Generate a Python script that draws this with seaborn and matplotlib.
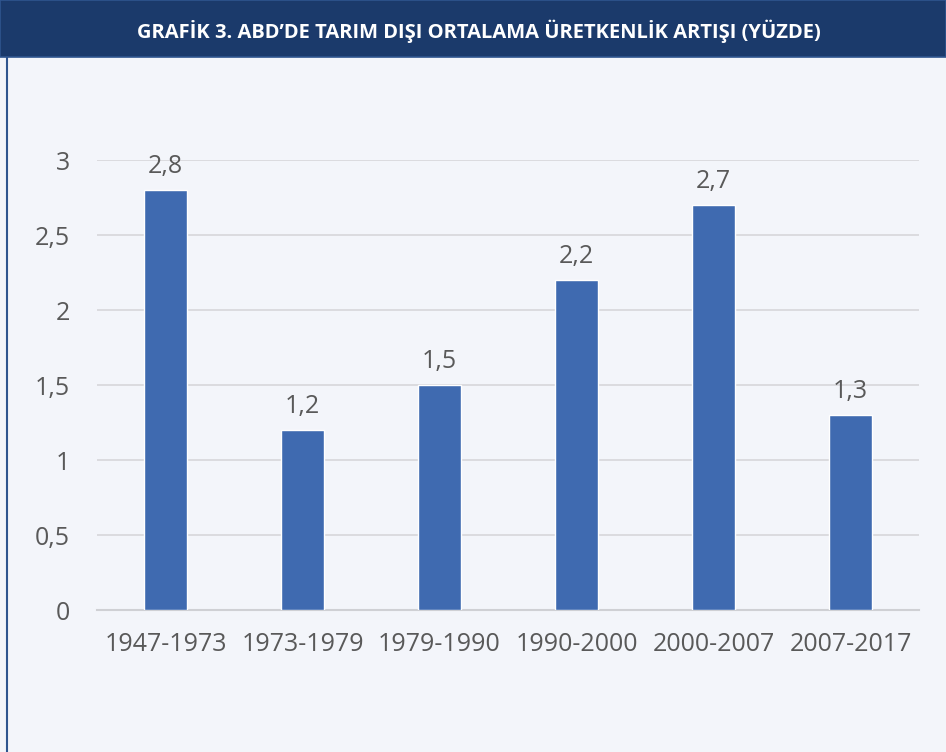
import matplotlib
matplotlib.use('Agg')
import matplotlib.pyplot as plt
import seaborn as sns
import pandas as pd
from matplotlib.patches import Rectangle
from matplotlib.lines import Line2D
from matplotlib.ticker import FuncFormatter

# --- chart data --- #
periods = ['1947-1973', '1973-1979', '1979-1990', '1990-2000', '2000-2007', '2007-2017']
growth = [2.8, 1.2, 1.5, 2.2, 2.7, 1.3]
y_ticks = [0, 0.5, 1, 1.5, 2, 2.5, 3]
title = 'GRAFİK 3. ABD’DE TARIM DIŞI ORTALAMA ÜRETKENLİK ARTIŞI (YÜZDE)'

df = pd.DataFrame({'period': periods, 'growth': growth})

sns.set_theme(style='white')
plt.rcParams['font.family'] = ['Open Sans', 'DejaVu Sans']

bg = '#f3f5fa'
navy = '#1b3a6b'
text_gray = '#595959'

fig = plt.figure(figsize=(9.46, 7.52), dpi=100, facecolor=bg)

# header band and panel border
fig.patches.append(Rectangle((0, 1 - 57 / 752), 1, 57 / 752, transform=fig.transFigure,
                             facecolor=navy, edgecolor='#2f558f', linewidth=1.2, zorder=0))
fig.lines.append(Line2D([6.5 / 946, 6.5 / 946], [0, 1 - 57 / 752], transform=fig.transFigure,
                        color='#2f558f', linewidth=1.5))
fig.text(479 / 946, 1 - 31 / 752, title, ha='center', va='center', color='white',
         fontsize=14.5, fontweight='bold')

ax = fig.add_axes([97 / 946, 1 - 610 / 752, 822 / 946, 450 / 752])
ax.set_facecolor(bg)

sns.barplot(data=df, x='period', y='growth', color='#3f6ab0', width=0.314,
            saturation=1, ax=ax, zorder=3)

ax.set_ylim(0, 3)
ax.set_xlim(-0.5, len(periods) - 0.5)
ax.set_yticks(y_ticks)
ax.yaxis.set_major_formatter(FuncFormatter(lambda v, p: f'{v:g}'.replace('.', ',')))
ax.grid(axis='y', color='#d9d9dd', linewidth=1.3, zorder=0)
ax.set_axisbelow(True)
for s in ['top', 'right', 'left']:
    ax.spines[s].set_visible(False)
ax.spines['bottom'].set_color('#cfd0d4')
ax.spines['bottom'].set_linewidth(1.5)
ax.tick_params(axis='both', length=0, labelsize=18, colors=text_gray)
ax.tick_params(axis='y', pad=19.5)
ax.tick_params(axis='x', pad=15.5)
ax.set_xlabel('')
ax.set_ylabel('')

for i, v in enumerate(growth):
    ax.annotate(f'{v:g}'.replace('.', ','), (i, v), xytext=(0, 8), textcoords='offset points',
                ha='center', va='bottom', fontsize=18, color=text_gray)

fig.savefig('out.png', dpi=100, facecolor=bg)
